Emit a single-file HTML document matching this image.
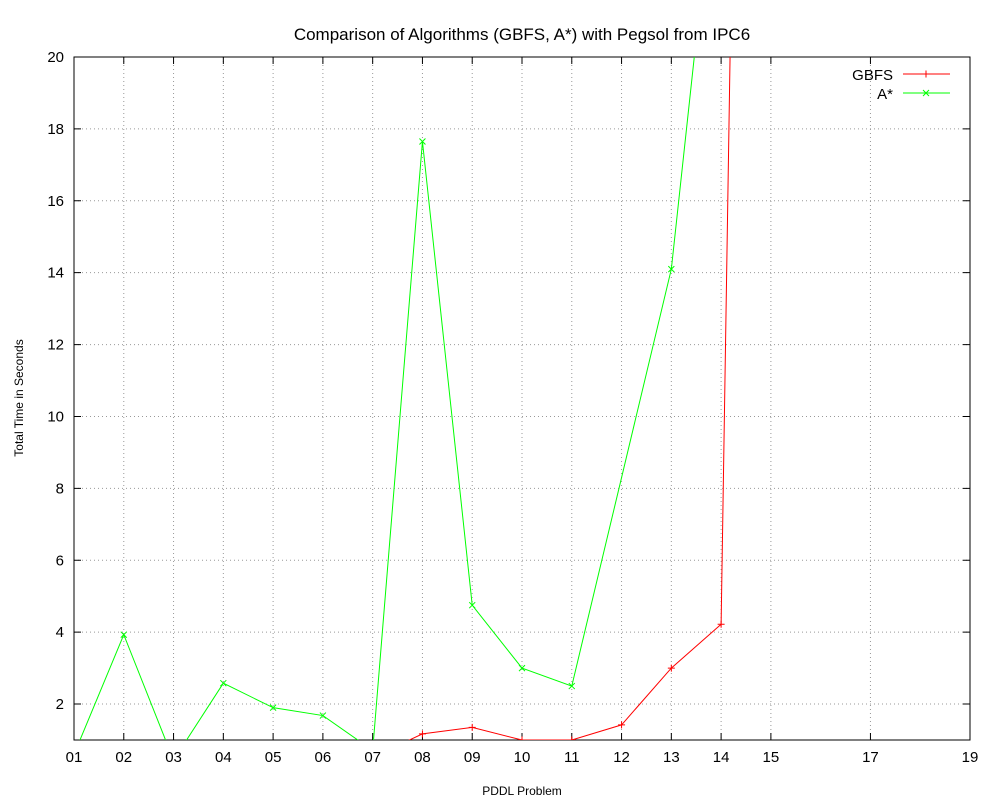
<!DOCTYPE html>
<html><head><meta charset="utf-8"><style>
body{margin:0;background:#fff}
svg{font-family:"Liberation Sans",sans-serif}
</style></head><body>
<svg id="c" width="1000" height="800" xmlns="http://www.w3.org/2000/svg">
<defs><clipPath id="pa"><rect x="74" y="57" width="896" height="683"/></clipPath></defs>
<rect width="1000" height="800" fill="#fff"/>
<g id="grid"></g>
<g id="ticks"></g>
<rect x="74" y="57" width="896" height="683" fill="none" stroke="#000" stroke-width="1"/>
<g id="series" clip-path="url(#pa)"></g>
<text x="522" y="40" text-anchor="middle" font-size="17">Comparison of Algorithms (GBFS, A*) with Pegsol from IPC6</text>
<text x="522" y="795" text-anchor="middle" font-size="12">PDDL Problem</text>
<text transform="translate(23,398) rotate(-90)" text-anchor="middle" font-size="12">Total Time in Seconds</text>
<g>
<text x="893" y="80" text-anchor="end" font-size="15">GBFS</text>
<line x1="903" y1="74" x2="950" y2="74" stroke="#f00"/>
<path d="M922.5,74h7M926,70.5v7" stroke="#f00"/>
<text x="893" y="99" text-anchor="end" font-size="15">A*</text>
<line x1="903" y1="93" x2="950" y2="93" stroke="#0f0"/>
<path d="M923,90l6,6M923,96l6,-6" stroke="#0f0"/>
</g>
</svg>
<script>
const problems=[1,2,3,4,5,6,7,8,9,10,11,12,13,14,15];
const gbfs=[0.3,0.3,0.3,0.3,0.3,0.3,0.52,1.17,1.35,1.0,1.0,1.42,3.0,4.22,92];
const astar=[0.6,3.93,0.44,2.58,1.9,1.68,0.71,17.65,4.75,3.0,2.5,8.3,14.1,26.9,60];
const xTickVals=[1,2,3,4,5,6,7,8,9,10,11,12,13,14,15,17,19];
const xTickLabels=["01","02","03","04","05","06","07","08","09","10","11","12","13","14","15","17","19"];
const yTickVals=[2,4,6,8,10,12,14,16,18,20];
const NS="http://www.w3.org/2000/svg";
const X=v=>74+(v-1)*(896/18);
const Y=v=>740-(v-1)*(683/19);
function mk(t,a,p){const e=document.createElementNS(NS,t);for(const k in a)e.setAttribute(k,a[k]);p.appendChild(e);return e;}
const grid=document.getElementById('grid'),ticks=document.getElementById('ticks'),ser=document.getElementById('series');
xTickVals.forEach((v,i)=>{const x=X(v);
 if(i>0&&i<xTickVals.length-1){const g=mk('line',{x1:x,y1:57,x2:x,y2:740,stroke:'#999','stroke-dasharray':'1,3'},grid);
 
 }
 mk('path',{d:`M${x},740v-7M${x},57v7`,stroke:'#000'},ticks);
 const t=mk('text',{x:x,y:762,'text-anchor':'middle','font-size':15},ticks);t.textContent=xTickLabels[i];
 
 });
yTickVals.forEach(v=>{const y=Y(v);
 if(v<20){const g=mk('line',{x1:74,y1:y,x2:970,y2:y,stroke:'#999','stroke-dasharray':'1,3'},grid);
 
 }
 mk('path',{d:`M74,${y}h7M970,${y}h-7`,stroke:'#000'},ticks);
 const t=mk('text',{x:64,y:y+5,'text-anchor':'end','font-size':15},ticks);t.textContent=v;
 
 });
function series(vals,col,name,plus){
 const d=vals.map((v,i)=>(i?'L':'M')+X(problems[i])+','+Y(v)).join('');
 const p=mk('path',{d:d,fill:'none',stroke:col},ser);
 
 
 vals.forEach((v,i)=>{if(name==='astar'&&i===11)return;const x=X(problems[i]),y=Y(v);
  const m=mk('path',{d:plus?`M${x-3.5},${y}h7M${x},${y-3.5}v7`:`M${x-3},${y-3}l6,6M${x-3},${y+3}l6,-6`,stroke:col},ser);
  
  });
}
series(gbfs,'#f00','gbfs',true);
series(astar,'#0f0','astar',false);
</script>
</body></html>
